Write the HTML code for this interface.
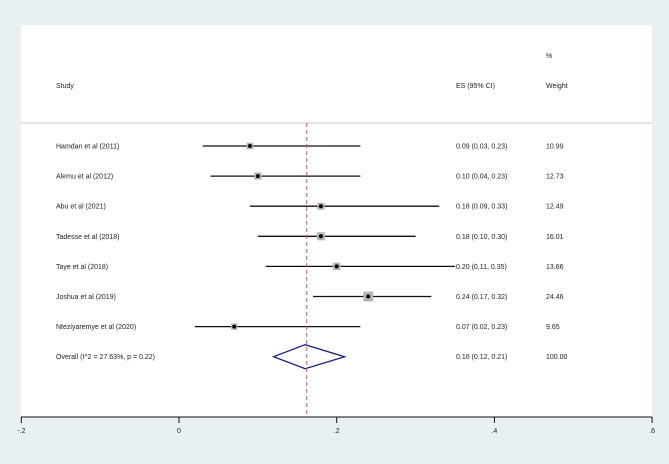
<!DOCTYPE html>
<html><head><meta charset="utf-8"><style>
html,body{margin:0;padding:0;background:#e8f0f3;}
svg{display:block;font-family:"Liberation Sans",sans-serif;}
text{font-size:7px;fill:#222;}
</style></head><body>
<svg id="chart" width="669" height="464" xmlns="http://www.w3.org/2000/svg">
<rect x="0" y="0" width="669" height="464" fill="#e8f0f3"/>
<rect x="21" y="25" width="631" height="392" fill="#ffffff"/>
<text x="546" y="58">%</text>
<text x="56" y="88">Study</text>
<text x="456" y="88">ES (95% CI)</text>
<text x="546" y="88">Weight</text>
<line x1="21" y1="123" x2="652" y2="123" stroke="#c8c8c8" stroke-width="1"/>
<g id="marks"></g>
<g id="axis"></g>
</svg>
<script>
const studies = ["Hamdan et al (2011)","Alemu et al (2012)","Abu et al (2021)","Tadesse et al (2018)","Taye et al (2018)","Joshua et al (2019)","Nteziyaremye et al (2020)"];
const es = [0.09,0.10,0.18,0.18,0.20,0.24,0.07];
const lo = [0.03,0.04,0.09,0.10,0.11,0.17,0.02];
const hi = [0.23,0.23,0.33,0.30,0.35,0.32,0.23];
const weights = [10.99,12.73,12.49,16.01,13.66,24.46,9.65];
const overall = [0.16,0.12,0.21];
const overallLabel = "Overall  (I^2 = 27.63%, p = 0.22)";
const ticks = [-0.2,0,0.2,0.4,0.6];
const tickLabels = ["-.2","0",".2",".4",".6"];
const pooledLine = 0.162;

const NS="http://www.w3.org/2000/svg";
const xs = v => 179 + v*788.5;
const ys = i => 146 + i*30.1;
function mk(tag, attrs, parent){const e=document.createElementNS(NS,tag);for(const k in attrs)e.setAttribute(k,attrs[k]);parent.appendChild(e);return e;}
const marks=document.getElementById('marks');
const axis=document.getElementById('axis');
const fmt=v=>v.toFixed(2);

studies.forEach((s,i)=>{
  const y=ys(i);
  let t=mk('text',{x:56,y:y+2.5},marks);t.textContent=s;
  
  
  let l=mk('line',{x1:xs(lo[i]),x2:xs(hi[i]),y1:y,y2:y,stroke:'#111','stroke-width':1.3},marks);
  
  
  const sz=Math.sqrt(weights[i])*2;
  let r=mk('rect',{x:xs(es[i])-sz/2,y:y-sz/2,width:sz,height:sz,fill:'#b4b4b4'},marks);
  
  
  let c=mk('circle',{cx:xs(es[i]),cy:y,r:2,fill:'#000'},marks);
  
  
  let e=mk('text',{x:456,y:y+2.5},marks);e.textContent=fmt(es[i])+" ("+fmt(lo[i])+", "+fmt(hi[i])+")";
  
  
  let w=mk('text',{x:546,y:y+2.5},marks);w.textContent=weights[i].toFixed(2);
  
  
});
const oy=ys(studies.length);
let ot=mk('text',{x:56,y:oy+2.5},marks);ot.textContent=overallLabel;


let d=mk('polygon',{points:`${xs(overall[1])},${oy} ${xs(overall[0])},${oy-12} ${xs(overall[2])},${oy} ${xs(overall[0])},${oy+12}`,fill:'none',stroke:'#1a1a80','stroke-width':1.3},marks);


let oe=mk('text',{x:456,y:oy+2.5},marks);oe.textContent=fmt(overall[0])+" ("+fmt(overall[1])+", "+fmt(overall[2])+")";


let ow=mk('text',{x:546,y:oy+2.5},marks);ow.textContent="100.00";


let pl=mk('line',{x1:xs(pooledLine),x2:xs(pooledLine),y1:123,y2:417,stroke:'#b06070','stroke-width':1,'stroke-dasharray':'4,3'},marks);



let ax=mk('line',{x1:21,x2:652,y1:417,y2:417,stroke:'#111','stroke-width':1},axis);


ticks.forEach((v,i)=>{
  let tk=mk('line',{x1:xs(v),x2:xs(v),y1:417,y2:423,stroke:'#111','stroke-width':1},axis);
  
  
  let tl=mk('text',{x:xs(v),y:433,'text-anchor':'middle'},axis);tl.textContent=tickLabels[i];
  
  
});
</script>
</body></html>
